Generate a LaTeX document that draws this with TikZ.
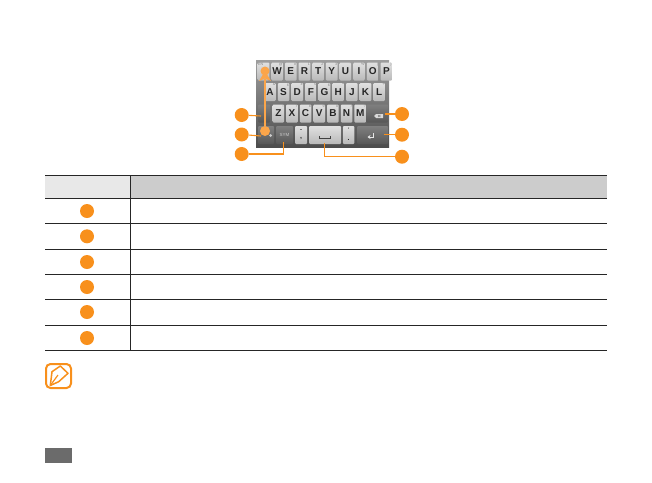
\documentclass[tikz,border=0pt]{standalone}
\usepackage{fontspec}
\setmainfont{Liberation Sans}
\usetikzlibrary{arrows.meta,positioning}
\definecolor{callout}{HTML}{F8901C}
\definecolor{calloutlight}{HTML}{FBA54A}

\begin{document}
\begin{tikzpicture}[
  x=1pt, y=-1pt,
  node distance=1.65pt,
  key/.style={rounded corners=1pt, minimum width=11.6pt, minimum height=18pt, inner sep=0pt,
              top color=gray!24, bottom color=gray!55, text=black!85,
              font=\fontsize{10}{10}\selectfont\bfseries},
  darkkey/.style={rounded corners=1pt, minimum height=18pt, inner sep=0pt,
              top color=black!50, bottom color=black!66, text=white!80!black,
              font=\fontsize{4.5}{5}\selectfont},
  hint/.style={anchor=north east, xshift=-0.5pt, yshift=-0.5pt, inner sep=0pt, text=black!50,
               font=\fontsize{3.6}{4}\selectfont\mdseries},
  num/.style={circle, fill=callout, minimum size=14pt, inner sep=0pt},
  lead/.style={callout, line width=1.1pt},
  >={Stealth[]}
]
\useasboundingbox (0,0) rectangle (652,482);

% keyboard panel
\node[minimum width=133pt, minimum height=87pt, inner sep=0pt, top color=black!38, bottom color=black!70] (panel) at (322.5,103.5) {};

% top row
\node[key, label={[hint, anchor=north west, xshift=1pt]north west:EN}] (kq) at (263.5,71.5) {};
\node[key, right=of kq, label={[hint]north east:@}] (kw) {W};
\node[key, right=of kw, label={[hint]north east:\#}] (ke) {E};
\node[key, right=of ke, label={[hint]north east:1}] (kr) {R};
\node[key, right=of kr, label={[hint]north east:2}] (kt) {T};
\node[key, right=of kt, label={[hint]north east:3}] (ky) {Y};
\node[key, right=of ky, label={[hint]north east:-}] (ku) {U};
\node[key, right=of ku, label={[hint]north east:\%}] (ki) {I};
\node[key, right=of ki, label={[hint]north east:(}] (ko) {O};
\node[key, right=of ko, label={[hint]north east:)}] (kp) {P};

% middle row
\node[key, label={[hint]north east:\&}] (ka) at (269.9,92) {A};
\node[key, right=of ka, label={[hint]north east:6}] (ks) {S};
\node[key, right=of ks, label={[hint]north east:4}] (kd) {D};
\node[key, right=of kd, label={[hint]north east:5}] (kf) {F};
\node[key, right=of kf, label={[hint]north east:6}] (kg) {G};
\node[key, right=of kg, label={[hint]north east:*}] (kh) {H};
\node[key, right=of kh, label={[hint]north east:'}] (kj) {J};
\node[key, right=of kj, label={[hint]north east:"}] (kk) {K};
\node[key, right=of kk, label={[hint]north east:+}] (kl) {L};

% bottom letter row
\node[darkkey, minimum width=12pt] (kshift) at (264,113.5) {};
\node[key, label={[hint]north east:!}] (kz) at (278.3,113.5) {Z};
\node[key, right=of kz, label={[hint]north east:7}] (kx) {X};
\node[key, right=of kx, label={[hint]north east:8}] (kc) {C};
\node[key, right=of kc, label={[hint]north east:9}] (kv) {V};
\node[key, right=of kv, label={[hint]north east:0}] (kb) {B};
\node[key, right=of kb, label={[hint]north east:/}] (kn) {N};
\node[key, right=of kn, label={[hint]north east:?}] (km) {M};
\node[darkkey, minimum width=22pt] (kdel) at (377,113.5) {};

% space row
\node[darkkey, minimum width=16pt] (klang) at (266,135) {};
\node[darkkey, minimum width=17pt] (ksym) at (284.5,135) {SYM};
\node[key, minimum width=12pt] (kcomma) at (301,135) {};
\node[key, minimum width=32pt] (kspace) at (325,135) {};
\node[key, minimum width=11.5pt] (kperiod) at (348.7,135) {};
\node[darkkey, minimum width=31pt] (kenter) at (372.5,135) {};

% key faces
\node[inner sep=0pt, text=black!85, font=\fontsize{6}{6}\selectfont\bfseries] (mdash) at (301,130.5) {-};
\node[inner sep=0pt, text=black!85, font=\fontsize{7}{7}\selectfont\bfseries] (mcomma) at (301,139) {,};
\node[inner sep=0pt, text=black!85, font=\fontsize{5}{5}\selectfont\bfseries] (mquote) at (348.7,130) {'};
\node[inner sep=0pt, text=black!85, font=\fontsize{7}{7}\selectfont\bfseries] (mdot) at (348.7,139.5) {.};
\draw[black!75, line width=0.9pt] (319,136) -- (319,138) -- (330,138) -- (330,136);
\fill[white!85!black] (374,116) -- (376,114) -- (383,114) -- (383,118) -- (376,118) -- cycle;
\draw[black!60, line width=0.4pt] (378,115) -- (380.5,117) (380.5,115) -- (378,117);
\draw[white!90!black, line width=0.9pt, -{Stealth[length=3pt,width=4pt]}] (373,133) -- (373,137) -- (367.5,137);
\fill[white!80!black] (270.5,135.5) circle (1.5pt);

% callouts on the left
\node[num] (n1) at (241.7,115) {};
\node[num] (n2) at (241.7,134.5) {};
\node[num] (n3) at (241.7,154) {};
% callouts on the right
\node[num] (n4) at (402,114) {};
\node[num] (n5) at (402,134.7) {};
\node[num] (n6) at (402,156.7) {};

\coordinate (pshift) at (261,116);
\coordinate (plang) at (261,136);
\coordinate (psym) at (283.7,142);
\coordinate (pdel) at (385,114);
\coordinate (penter) at (384.3,134.7);
\coordinate (pspace) at (324.3,142.7);
\draw[lead] (n1) -- (pshift);
\draw[lead] (n2) -- (plang);
\draw[lead] (n3) -| (psym);
\draw[lead] (n4) -- (pdel);
\draw[lead] (n5) -- (penter);
\draw[lead] (n6) -| (pspace);

% swipe gesture
\node[circle, fill=calloutlight, minimum size=10pt, inner sep=0pt] (dotdown) at (265,131) {};
\node[circle, fill=calloutlight, minimum size=9pt, inner sep=0pt] (dotup) at (265,71) {};
\draw[calloutlight, line width=1.5pt, -{Stealth[length=10pt,width=12pt,inset=2.5pt,line width=0pt]}] (dotdown) -- (dotup.center);

% table
\fill[black!9] (45,175.3) rectangle (130.3,198.3);
\fill[black!20] (130.3,175.3) rectangle (607,198.3);
\coordinate (tl0) at (45,175.3);
\coordinate (tr0) at (607,175.3);
\coordinate (tl1) at (45,198.3);
\coordinate (tr1) at (607,198.3);
\coordinate (tl2) at (45,223.3);
\coordinate (tr2) at (607,223.3);
\coordinate (tl3) at (45,249);
\coordinate (tr3) at (607,249);
\coordinate (tl4) at (45,274.3);
\coordinate (tr4) at (607,274.3);
\coordinate (tl5) at (45,299.8);
\coordinate (tr5) at (607,299.8);
\coordinate (tl6) at (45,325);
\coordinate (tr6) at (607,325);
\coordinate (tl7) at (45,350.3);
\coordinate (tr7) at (607,350.3);
\coordinate (ttop) at (130.3,175.3);
\coordinate (tbot) at (130.3,350.3);
\draw[black!85, line width=0.8pt] (tl0) -- (tr0);
\draw[black!85, line width=0.8pt] (tl1) -- (tr1);
\draw[black!85, line width=0.8pt] (tl2) -- (tr2);
\draw[black!85, line width=0.8pt] (tl3) -- (tr3);
\draw[black!85, line width=0.8pt] (tl4) -- (tr4);
\draw[black!85, line width=0.8pt] (tl5) -- (tr5);
\draw[black!85, line width=0.8pt] (tl6) -- (tr6);
\draw[black!85, line width=0.8pt] (tl7) -- (tr7);
\draw[black!85, line width=0.8pt] (ttop) -- (tbot);

\node[num] (t1) at (87,211) {};
\node[num] (t2) at (87,236.3) {};
\node[num] (t3) at (87,262) {};
\node[num] (t4) at (87,287) {};
\node[num] (t5) at (87,312) {};
\node[num] (t6) at (87,338) {};

% note icon
\draw[callout, line width=2pt, rounded corners=4.5pt] (46,364) rectangle (71,388);
\draw[callout, line width=1.5pt, line join=round] (50.3,385.5) -- (52,371.7) -- (60.3,366) -- (68,373.3) -- (58.7,381.7) -- cycle;
\draw[callout, line width=1.2pt] (50.3,385.5) -- (58,375);

% page tab
\fill[black!58] (45,448) rectangle (72,463);
\end{tikzpicture}
\end{document}
